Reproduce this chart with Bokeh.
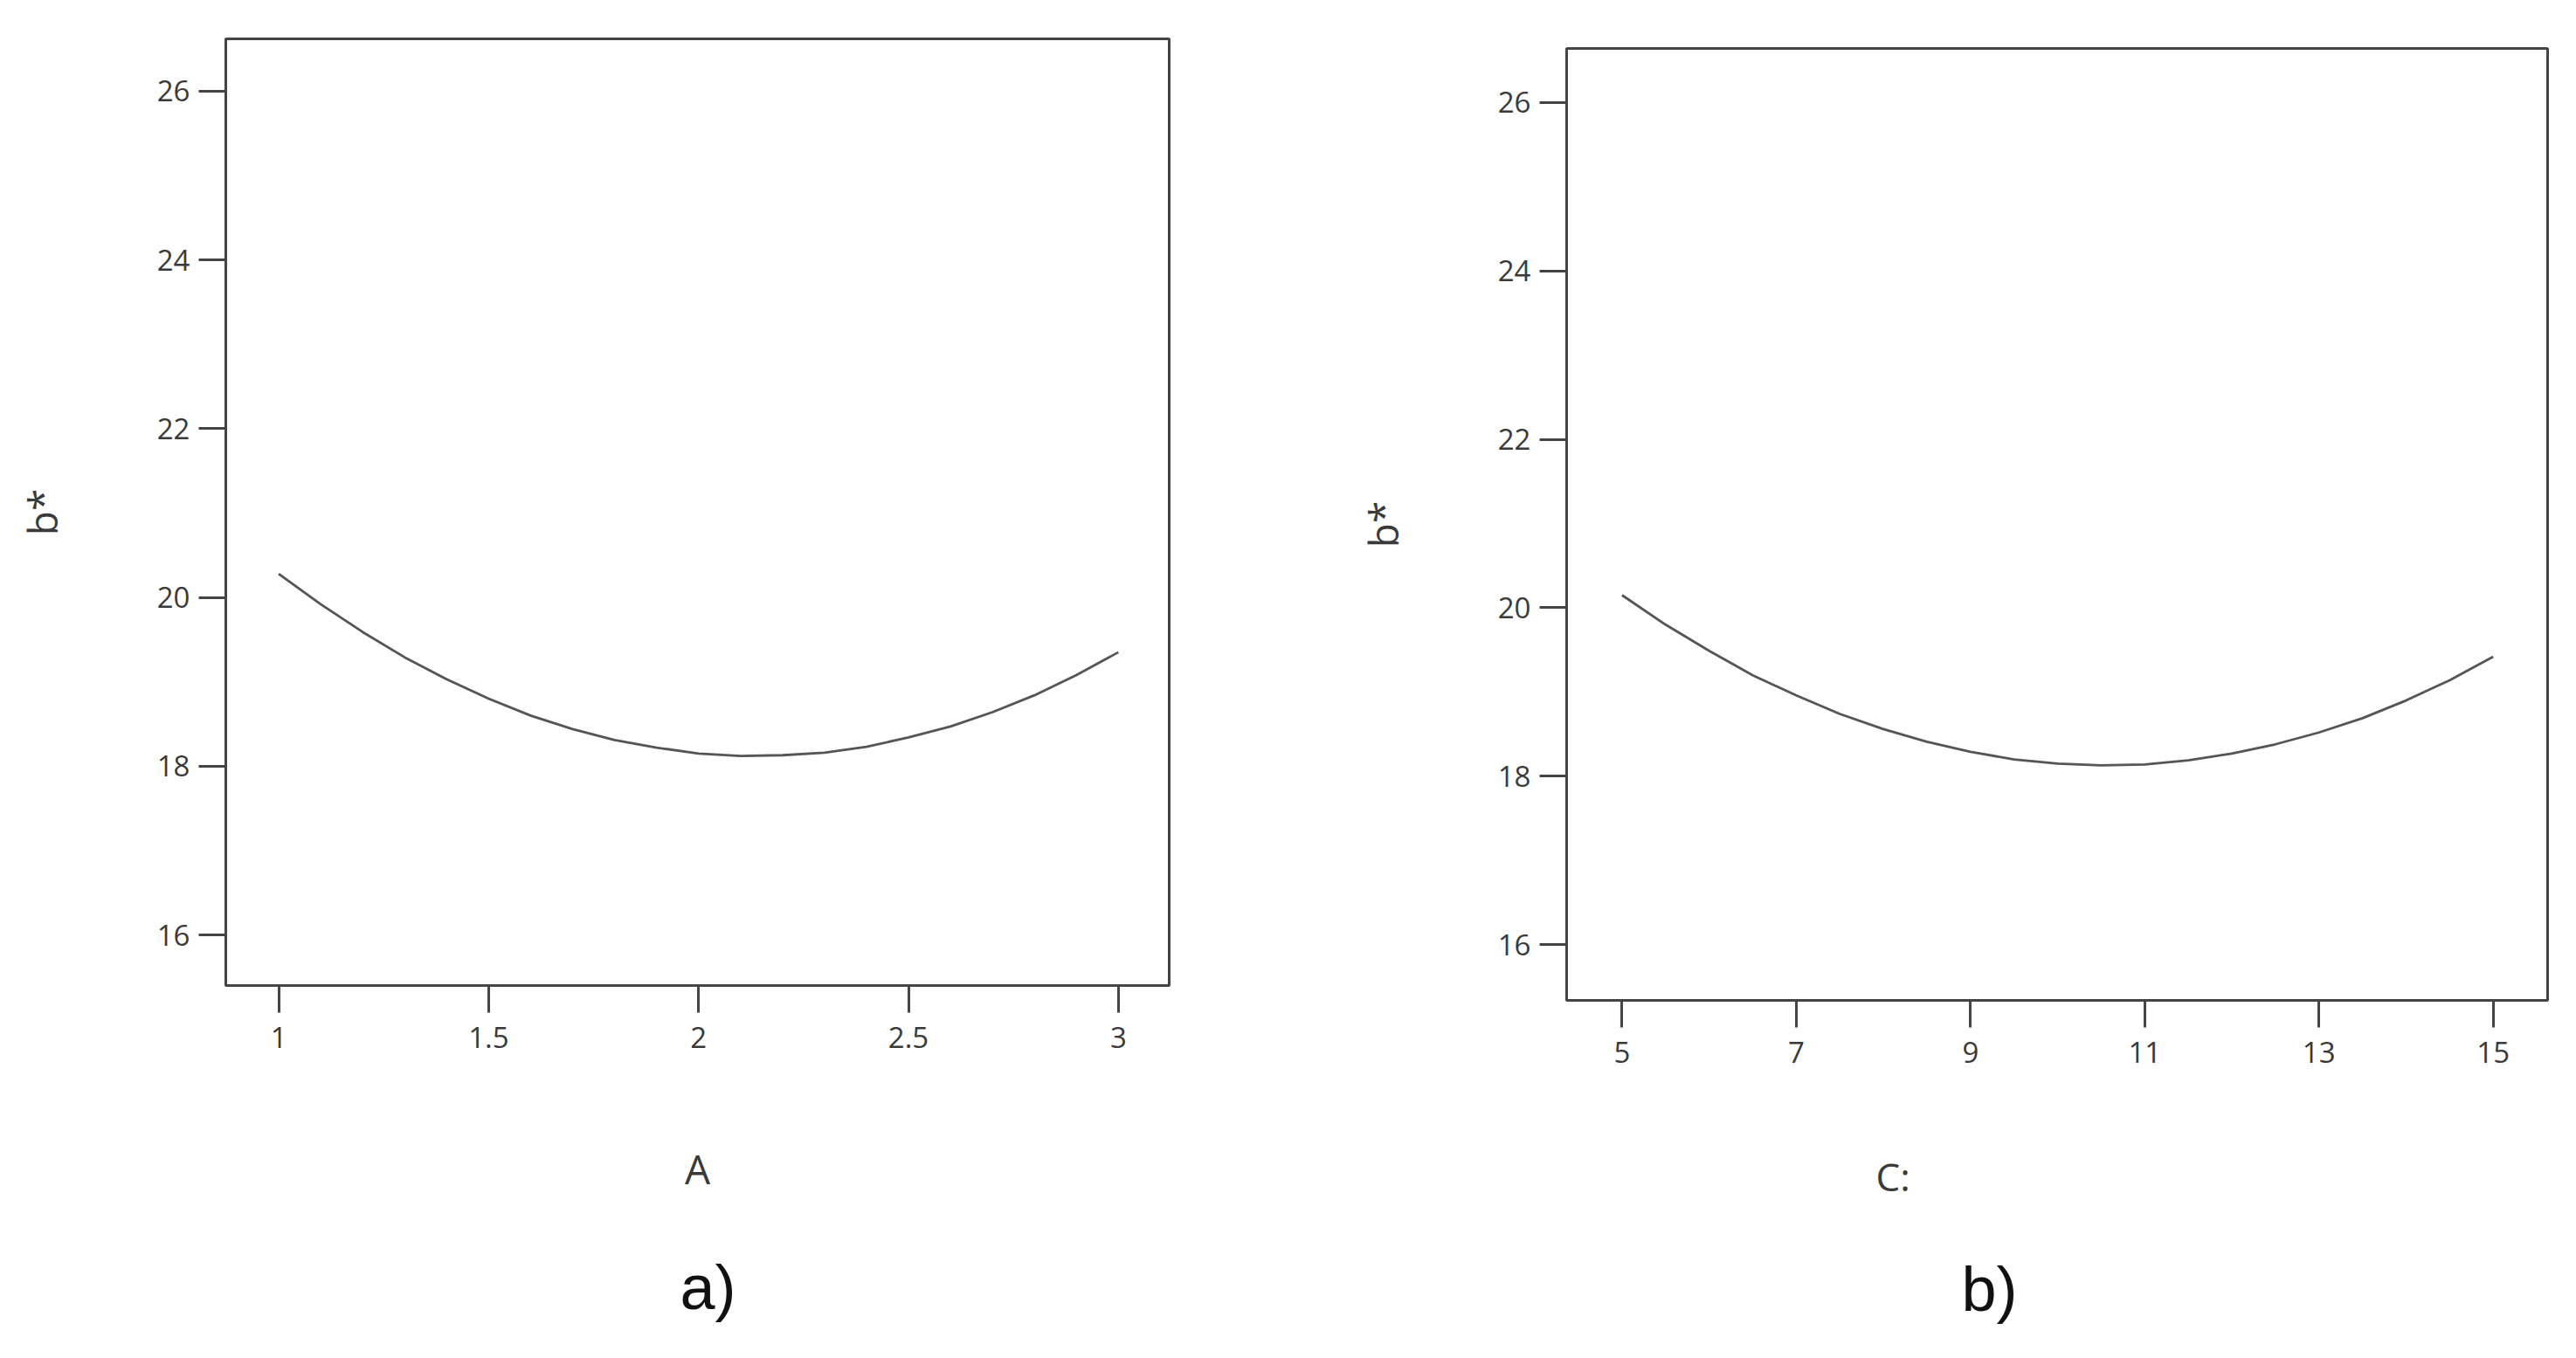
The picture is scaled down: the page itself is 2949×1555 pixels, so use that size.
from bokeh.plotting import figure
from bokeh.layouts import row
from bokeh.models import FixedTicker, Range1d, Title
from bokeh.embed import file_html
from bokeh.resources import INLINE

# ---------------- data ----------------
a_x = [1.0, 1.1, 1.2, 1.3, 1.4, 1.5, 1.6, 1.7, 1.8, 1.9, 2.0,
       2.1, 2.2, 2.3, 2.4, 2.5, 2.6, 2.7, 2.8, 2.9, 3.0]
a_y = [20.28, 19.92, 19.59, 19.29, 19.03, 18.80, 18.60, 18.44, 18.31, 18.22, 18.15,
       18.12, 18.13, 18.16, 18.23, 18.34, 18.47, 18.64, 18.84, 19.08, 19.35]

b_x = [5.0, 5.5, 6.0, 6.5, 7.0, 7.5, 8.0, 8.5, 9.0, 9.5, 10.0,
       10.5, 11.0, 11.5, 12.0, 12.5, 13.0, 13.5, 14.0, 14.5, 15.0]
b_y = [20.15, 19.80, 19.49, 19.20, 18.96, 18.74, 18.56, 18.41, 18.29, 18.20, 18.15,
       18.13, 18.14, 18.19, 18.27, 18.38, 18.52, 18.69, 18.90, 19.14, 19.42]

a_xticks = [1, 1.5, 2, 2.5, 3]
a_xtick_labels = ["1", "1.5", "2", "2.5", "3"]
b_xticks = [5, 7, 9, 11, 13, 15]
b_xtick_labels = ["5", "7", "9", "11", "13", "15"]
y_ticks = [16, 18, 20, 22, 24, 26]
y_tick_labels = ["16", "18", "20", "22", "24", "26"]

a_xlabel = "A"
b_xlabel = "C:"
y_label = "b*"
a_caption = "a)"
b_caption = "b)"

AXIS_COLOR = "#444444"
TEXT_COLOR = "#3a3a3a"
CURVE_COLOR = "#555555"


def style(p, xticks, xlabels):
    p.outline_line_color = AXIS_COLOR
    p.outline_line_width = 3
    p.xgrid.visible = False
    p.ygrid.visible = False
    p.background_fill_color = "white"
    p.border_fill_color = "white"
    for ax in (p.xaxis[0], p.yaxis[0]):
        ax.axis_line_color = AXIS_COLOR
        ax.axis_line_width = 3
        ax.major_tick_line_color = AXIS_COLOR
        ax.major_tick_line_width = 3
        ax.major_tick_out = 31
        ax.major_tick_in = 0
        ax.minor_tick_line_color = None
        ax.major_label_text_font = "Open Sans"
        ax.major_label_text_font_size = "33px"
        ax.major_label_text_color = TEXT_COLOR
        ax.axis_label_text_font = "Open Sans"
        ax.axis_label_text_font_style = "normal"
        ax.axis_label_text_font_size = "46px"
        ax.axis_label_text_color = TEXT_COLOR
    p.xaxis[0].ticker = FixedTicker(ticks=xticks)
    p.xaxis[0].major_label_overrides = {t: l for t, l in zip(xticks, xlabels)}
    p.xaxis[0].major_label_standoff = 16
    p.yaxis[0].ticker = FixedTicker(ticks=y_ticks)
    p.yaxis[0].major_label_overrides = {t: l for t, l in zip(y_ticks, y_tick_labels)}
    p.yaxis[0].major_label_standoff = 10
    p.yaxis[0].axis_label = y_label
    p.yaxis[0].axis_label_standoff = 98


def caption(text, size, font, color, offset, standoff):
    return Title(text=text, text_font=font, text_font_size=size,
                 text_font_style="normal", text_color=color,
                 align="left", offset=offset, standoff=standoff)


# ---------------- panel a ----------------
pa = figure(title=None, output_backend="svg", toolbar_location=None,
            x_range=Range1d(0.874, 3.121), y_range=Range1d(15.40, 26.62),
            frame_width=1080, frame_height=1084,
            min_border_left=258, min_border_right=162,
            min_border_top=44, min_border_bottom=400)
style(pa, a_xticks, a_xtick_labels)
pa.xaxis[0].axis_label = a_xlabel
pa.xaxis[0].axis_label_standoff = 104
pa.line(a_x, a_y, line_color=CURVE_COLOR, line_width=2.8)
pa.add_layout(caption(a_caption, "72px", "Liberation Sans", "#111111", 520, 121), "below")

# ---------------- panel b ----------------
pb = figure(title=None, output_backend="svg", toolbar_location=None,
            x_range=Range1d(4.364, 15.625), y_range=Range1d(15.34, 26.64),
            frame_width=1123, frame_height=1090,
            min_border_left=293, min_border_right=20,
            min_border_top=44, min_border_bottom=390)
style(pb, b_xticks, b_xtick_labels)
pb.line(b_x, b_y, line_color=CURVE_COLOR, line_width=2.8)
pb.add_layout(caption(b_xlabel, "44px", "Open Sans", TEXT_COLOR, 354, 191), "below")
pb.add_layout(caption(b_caption, "72px", "Liberation Sans", "#111111", 452, -78), "below")
pb.margin = (11, 0, 0, 0)

layout = row(pa, pb, spacing=0)
open("out.html", "w").write(file_html(layout, INLINE))
